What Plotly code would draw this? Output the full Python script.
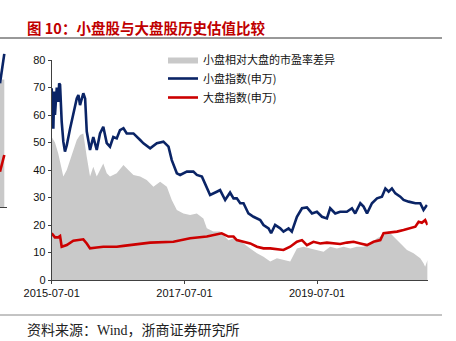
import plotly.graph_objects as go

# ---------------- data ----------------
small_dates = ["2015-07-01","2015-07-10","2015-07-15","2015-07-19","2015-07-29","2015-08-06","2015-08-11","2015-08-16",
    "2015-08-25","2015-09-03","2015-09-12","2015-09-22","2015-10-10","2015-10-28","2015-11-16","2015-11-25","2015-12-04",
    "2015-12-22","2016-01-01","2016-01-10","2016-01-28","2016-02-15","2016-03-05","2016-03-23","2016-04-10","2016-04-29",
    "2016-05-17","2016-06-04","2016-06-23","2016-07-11","2016-07-30","2016-08-17","2016-09-23","2016-10-30","2016-11-17",
    "2016-12-24","2017-01-30","2017-03-07","2017-04-04","2017-04-22","2017-05-20","2017-06-07","2017-07-14","2017-08-19",
    "2017-09-07","2017-10-05","2017-11-01","2017-11-19","2017-12-26","2018-01-13","2018-02-10","2018-03-09","2018-03-28",
    "2018-04-15","2018-05-04","2018-05-22","2018-06-18","2018-07-16","2018-08-22","2018-09-09","2018-10-07","2018-10-21",
    "2018-11-12","2018-12-10","2018-12-28","2019-01-25","2019-02-12","2019-03-12","2019-04-09","2019-05-06","2019-06-03",
    "2019-06-30","2019-07-28","2019-08-24","2019-09-11","2019-10-09","2019-11-05","2019-12-12","2020-01-09","2020-01-27",
    "2020-02-24","2020-03-13","2020-04-01","2020-04-28","2020-05-26","2020-06-22","2020-07-11","2020-07-29","2020-08-16",
    "2020-09-04","2020-10-01","2020-10-19","2020-11-16","2020-12-23","2021-01-19","2021-02-06","2021-02-25"]
small_pe = [69.7,55,68.5,60,70,64.8,71.5,71,
    57.6,50.3,46.7,49,55,60,66,67.3,63.6,
    67.9,66,54,47.3,52,47.3,53.3,55.7,49.8,
    48.5,52,51.5,54.5,55.2,53.3,53.3,50.9,49.7,
    47.9,49.7,50.3,48.5,43.6,38.8,38.2,39.4,39.4,
    38.2,37.6,33.3,30.9,32.1,32.7,29.1,31.8,29.7,
    29.7,27.9,27.9,24.2,23,21.8,20,18.8,17,
    20,18.8,17.6,18.8,17.6,23,26.1,26.4,24.2,
    24.8,23,22.4,26.1,24.2,24.8,24.8,26.1,24.2,
    27.9,26.7,24.2,27.9,29.7,30.3,33.3,32.1,33.3,
    31.5,30.3,29.1,28.5,27.9,27.9,25.5,27.3]

large_dates = ["2015-07-01","2015-07-19","2015-08-06","2015-08-16","2015-08-25","2015-09-22","2015-10-28","2015-12-04",
    "2015-12-22","2016-01-10","2016-01-28","2016-03-05","2016-04-10","2016-05-17","2016-06-23","2016-07-30","2016-09-04",
    "2016-10-11","2016-11-17","2016-12-24","2017-05-01","2017-08-01","2017-11-01","2018-01-22","2018-02-28","2018-03-28",
    "2018-04-15","2018-05-22","2018-06-28","2018-08-04","2018-09-09","2018-10-16","2018-11-22","2018-12-28","2019-02-03",
    "2019-03-12","2019-04-09","2019-05-06","2019-06-11","2019-07-18","2019-08-24","2019-09-30","2019-11-05","2019-12-12",
    "2020-01-18","2020-02-24","2020-04-01","2020-05-07","2020-06-13","2020-07-01","2020-08-07","2020-09-13","2020-10-19",
    "2020-11-25","2020-12-23","2021-01-10","2021-01-28","2021-02-15","2021-02-28"]
large_pe = [17,15.5,15.5,16,12.1,12.7,14.3,14.5,
    14.8,13.3,11.5,11.8,12.1,12.1,12.1,12.4,12.7,
    13.1,13.3,13.6,13.9,15.2,15.8,17,15.8,15.8,
    14.5,13.9,13.3,12.1,11.5,11.5,11.2,10.9,12.1,
    13.9,14.5,12.7,13.9,13.3,13.6,13.3,13.1,13.6,
    13.9,13.3,12.7,13.9,14.5,17,17.2,17.6,18.2,
    18.8,19.4,21.2,20.8,21.8,20]

diff_dates = ["2015-07-01","2015-07-19","2015-08-06","2015-08-25","2015-09-03","2015-09-22","2015-10-10","2015-10-28",
    "2015-11-16","2015-12-04","2015-12-22","2016-01-10","2016-01-28","2016-02-15","2016-03-05","2016-03-23","2016-04-10",
    "2016-04-29","2016-05-17","2016-06-23","2016-07-30","2016-08-26","2016-09-23","2016-10-30","2016-12-05","2017-01-11",
    "2017-02-17","2017-03-26","2017-04-22","2017-05-20","2017-06-25","2017-08-01","2017-09-07","2017-10-13","2017-11-01",
    "2017-12-07","2018-01-13","2018-02-28","2018-03-28","2018-05-04","2018-05-22","2018-06-28","2018-08-04","2018-09-09",
    "2018-10-16","2018-11-22","2018-12-28","2019-02-03","2019-03-12","2019-04-17","2019-05-24","2019-06-30","2019-08-06",
    "2019-09-11","2019-10-18","2019-11-24","2019-12-31","2020-02-05","2020-03-13","2020-04-19","2020-05-26","2020-07-01",
    "2020-07-29","2020-08-25","2020-10-01","2020-11-07","2020-12-13","2021-01-19","2021-02-06","2021-02-15","2021-02-28"]
diff_pe = [52,50,46,41,37.6,40,43.6,47.3,
    50.9,52.7,53.3,44.8,37.6,41.2,37.6,40,42.4,
    38.8,37.6,38.8,41.8,40,38.2,37.6,36.4,33.9,
    35.7,33.9,29.1,25.5,24.2,23.6,24.2,22.4,18.8,
    17.6,17.6,14.5,15.2,14.5,13.3,11.5,9.7,8.5,
    6.7,7.9,7.3,6.7,11.5,12.1,11.5,10.9,10.3,
    12.1,11.5,12.1,11.5,12.1,12.1,13.3,15.2,16.4,
    17.6,15.8,13.3,10.9,9.7,7.9,6.1,4.8,7.3]

# cut-off neighbouring chart visible at the left edge
frag_x = [0, 1, 2, 3, 4.3]
frag_gray = [64, 64, 65, 65, 65]
frag_navy = [63, 66, 69, 73, 78]
frag_red = [18, 20, 22, 24, 26.5]

x_ticks = ["2015-07-01", "2017-07-01", "2019-07-01"]
y_ticks = [0, 10, 20, 30, 40, 50, 60, 70, 80]

title_text = "图 10：小盘股与大盘股历史估值比较"
source_text = "资料来源：Wind，浙商证券研究所"
names = ["小盘相对大盘的市盈率差异", "小盘指数(申万)", "大盘指数(申万)"]

GRAY = "#c9c9c9"
NAVY = "#0a2466"
RED = "#cc0000"
W, H = 456, 341

fig = go.Figure()
fig.add_trace(go.Scatter(x=diff_dates, y=diff_pe, name=names[0], mode="lines",
                         fill="tozeroy", fillcolor=GRAY, line=dict(width=0, color=GRAY)))
fig.add_trace(go.Scatter(x=small_dates, y=small_pe, name=names[1], mode="lines",
                         line=dict(color=NAVY, width=2.6)))
fig.add_trace(go.Scatter(x=large_dates, y=large_pe, name=names[2], mode="lines",
                         line=dict(color=RED, width=2.6)))

# fragment traces
fig.add_trace(go.Scatter(x=frag_x, y=frag_gray, mode="lines", fill="tozeroy", fillcolor=GRAY,
                         line=dict(width=0, color=GRAY), xaxis="x2", yaxis="y2", showlegend=False))
fig.add_trace(go.Scatter(x=frag_x, y=frag_navy, mode="lines", line=dict(color=NAVY, width=2.6),
                         xaxis="x2", yaxis="y2", showlegend=False))
fig.add_trace(go.Scatter(x=frag_x, y=frag_red, mode="lines", line=dict(color=RED, width=2.6),
                         xaxis="x2", yaxis="y2", showlegend=False))

tick_font = dict(family="Liberation Sans, Arial, sans-serif", size=11, color="#111111")
cjk = "Noto Sans CJK SC, sans-serif"

fig.update_layout(
    width=W, height=H,
    autosize=False,
    margin=dict(l=0, r=0, t=0, b=0, pad=0, autoexpand=False),
    paper_bgcolor="white", plot_bgcolor="white",
    showlegend=True,
    legend=dict(x=163 / W, y=1 - 45 / H, xanchor="left", yanchor="top",
                font=dict(family=cjk, size=11, color="#111111"),
                bgcolor="rgba(0,0,0,0)", tracegroupgap=0, itemwidth=30),
    xaxis=dict(domain=[51.7 / W, 427.7 / W], type="date",
               range=["2015-07-01", "2021-03-01"],
               tickvals=x_ticks, ticktext=x_ticks, automargin=False,
               showgrid=False, zeroline=False, showline=True, linecolor="#404040", linewidth=1,
               ticks="outside", ticklen=3, tickcolor="#404040", tickfont=tick_font, anchor="y"),
    yaxis=dict(domain=[(H - 280) / H, (H - 60) / H], range=[0, 80], automargin=False,
               tickvals=y_ticks, showgrid=False, zeroline=False,
               showline=True, linecolor="#404040", linewidth=1,
               ticks="outside", ticklen=3, tickcolor="#404040", tickfont=tick_font, anchor="x"),
    xaxis2=dict(domain=[0, 7 / W], range=[0, 7], showgrid=False, zeroline=False, automargin=False,
                showline=True, linecolor="#404040", linewidth=1, showticklabels=False,
                ticks="", anchor="y2"),
    yaxis2=dict(domain=[(H - 207) / H, (H - 50) / H], range=[0, 80], showgrid=False, automargin=False,
                zeroline=False, showline=False, showticklabels=False, ticks="", anchor="x2"),
    annotations=[
        dict(text="<b>" + title_text + "</b>", xref="paper", yref="paper",
             x=25 / W, y=1 - 27 / H, xanchor="left", yanchor="middle", showarrow=False,
             font=dict(family=cjk, size=14.5, color="#c00000")),
        dict(text=source_text, xref="paper", yref="paper",
             x=25 / W, y=1 - 330 / H, xanchor="left", yanchor="middle", showarrow=False,
             font=dict(family="Liberation Serif, Noto Sans CJK SC, serif", size=14, color="#222222")),
    ],
    shapes=[
        dict(type="line", xref="paper", yref="paper", x0=0, x1=442 / W,
             y0=1 - 38 / H, y1=1 - 38 / H, line=dict(color="#333333", width=1)),
        dict(type="line", xref="paper", yref="paper", x0=0, x1=442 / W,
             y0=1 - 315 / H, y1=1 - 315 / H, line=dict(color="#888888", width=1)),
    ],
)

fig.write_html("out.html")
